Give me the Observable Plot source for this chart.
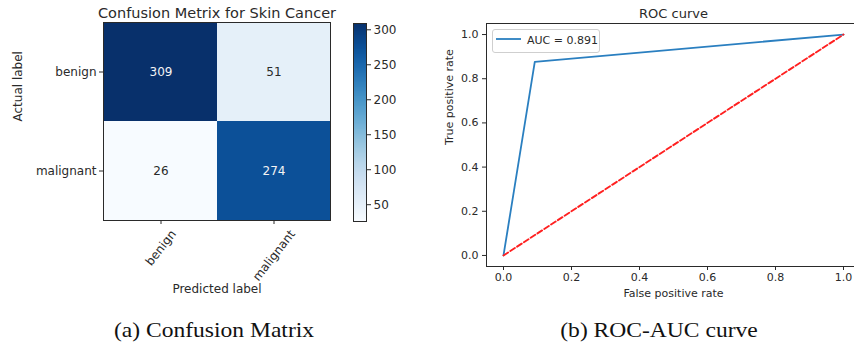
<!DOCTYPE html>
<html><head><meta charset="utf-8">
<script src="https://cdn.jsdelivr.net/npm/d3@7"></script>
<script src="https://cdn.jsdelivr.net/npm/@observablehq/plot@0.6"></script>
<style>
html,body{margin:0;padding:0;background:#fff;overflow:hidden;}
#root{position:relative;width:854px;height:343px;overflow:hidden;background:#fff;}
.abs{position:absolute;}
.cap{position:absolute;top:319px;line-height:22px;font-family:"Liberation Serif","Times New Roman",serif;font-size:22px;color:#111;white-space:nowrap;transform:translateX(-50%) scaleX(1.07);}
.legend{position:absolute;left:492px;top:29px;width:108px;height:24px;box-sizing:border-box;border:1px solid #cfcfcf;border-radius:3px;background:rgba(255,255,255,0.8);font-family:"DejaVu Sans",sans-serif;font-size:11px;color:#2a2a2a;}
.legend svg{position:absolute;left:2px;top:0;}
.legend span{position:absolute;left:34px;top:4px;line-height:14px;}
</style></head><body><div id="root"></div>
<script>
// ---- data ----
const predictedLabels = ["benign", "malignant"];
const actualLabels = ["benign", "malignant"];
const confusionCounts = [[309, 51], [26, 274]];
const colorbarTicks = [50, 100, 150, 200, 250, 300];
const fprValues = [0, 0.092, 1];
const tprValues = [0, 0.876, 1];
const chanceX = [0, 1];
const chanceY = [0, 1];
const rateTicks = [0, 0.2, 0.4, 0.6, 0.8, 1.0];
const aucText = "AUC = 0.891";
const titles = {cm: "Confusion Metrix for Skin Cancer", roc: "ROC curve"};
const captions = ["(a) Confusion Matrix", "(b) ROC-AUC curve"];

const root = document.getElementById("root");
const ink = "#2a2a2a";
const cells = actualLabels.flatMap((a, i) => predictedLabels.map((p, j) => ({actual: a, predicted: p, count: confusionCounts[i][j]})));
const cmin = d3.min(cells, d => d.count), cmax = d3.max(cells, d => d.count);

// measure text for rotated tick labels (matplotlib ha=center)
const ctx = document.createElement("canvas").getContext("2d");
ctx.font = "12px 'DejaVu Sans'";
const ang = 52 * Math.PI / 180;
const rotLabel = (lab) => {
  const L = ctx.measureText(lab).width, h = 12;
  const ext = L * Math.sin(ang) + h * Math.cos(ang);
  return Plot.text([lab], {x: d => d, text: d => d, frameAnchor: "bottom", rotate: -52,
    textAnchor: "middle", lineAnchor: "middle", dy: 7.5 + ext / 2, fontSize: 12});
};

// ---- confusion matrix ----
const cm = Plot.plot({
  width: 400, height: 300,
  marginTop: 22, marginLeft: 103, marginRight: 70, marginBottom: 80,
  style: {fontFamily: "DejaVu Sans", fontSize: "12px", color: ink, background: "transparent"},
  x: {domain: predictedLabels, padding: 0},
  y: {domain: actualLabels, padding: 0},
  color: {type: "linear", scheme: "blues", domain: [cmin, cmax]},
  marks: [
    Plot.cell(cells, {x: "predicted", y: "actual", fill: "count", inset: 0}),
    Plot.text(cells, {x: "predicted", y: "actual", text: d => String(d.count), fontSize: 12,
      fill: d => d.count > cmax / 2 ? "#f4f4f4" : ink}),
    Plot.frame({stroke: ink, strokeWidth: 1}),
    Plot.axisY({tickSize: 4, tickPadding: 3, label: null, fontSize: 12}),
    Plot.axisX({tickSize: 4, tickFormat: () => "", label: null}),
    ...predictedLabels.map(rotLabel),
    Plot.text([titles.cm], {text: d => d, frameAnchor: "top", dy: -9, fontSize: 14.5, lineAnchor: "middle"}),
    Plot.text(["Predicted label"], {text: d => d, frameAnchor: "bottom", dy: 69, fontSize: 12, lineAnchor: "middle"}),
    Plot.text(["Actual label"], {text: d => d, frameAnchor: "left", dx: -85, rotate: -90, fontSize: 12, lineAnchor: "middle"})
  ]
});
cm.classList.add("abs"); cm.style.left = "0px"; cm.style.top = "0px";
root.appendChild(cm);

// ---- colorbar ----
const nStops = 240;
const stops = d3.range(nStops).map(i => cmin + (cmax - cmin) * i / nStops);
const step = (cmax - cmin) / nStops;
const cb = Plot.plot({
  width: 70, height: 300,
  marginTop: 23, marginLeft: 13, marginRight: 44, marginBottom: 79,
  style: {fontFamily: "DejaVu Sans", fontSize: "12px", color: ink, background: "transparent"},
  y: {domain: [cmin, cmax]},
  color: {type: "linear", scheme: "blues", domain: [cmin, cmax]},
  marks: [
    Plot.rect(stops, {y1: d => d, y2: d => Math.min(cmax, d + step * 1.05), fill: d => d + step / 2, shapeRendering: "crispEdges"}),
    Plot.frame({stroke: ink}),
    Plot.axisY({anchor: "right", ticks: colorbarTicks, tickSize: 4, tickPadding: 3, label: null, fontSize: 12})
  ]
});
cb.classList.add("abs"); cb.style.left = "340px"; cb.style.top = "0px";
root.appendChild(cb);

// ---- ROC ----
const roc = fprValues.map((f, i) => ({fpr: f, tpr: tprValues[i]}));
const diag = chanceX.map((f, i) => ({fpr: f, tpr: chanceY[i]}));
const rp = Plot.plot({
  width: 450, height: 300,
  marginTop: 23, marginLeft: 66, marginRight: 10, marginBottom: 34,
  style: {fontFamily: "DejaVu Sans", fontSize: "11px", color: ink, background: "transparent"},
  x: {domain: [-0.05, 1.05]},
  y: {domain: [-0.05, 1.05]},
  marks: [
    Plot.line(roc, {x: "fpr", y: "tpr", stroke: "#2a7fc0", strokeWidth: 1.8}),
    Plot.line(diag, {x: "fpr", y: "tpr", stroke: "#ff2020", strokeWidth: 1.9, strokeDasharray: "5.5,2.6"}),
    Plot.frame({stroke: ink}),
    Plot.axisX({ticks: rateTicks, tickFormat: d3.format(".1f"), tickSize: 4, tickPadding: 3, label: null, fontSize: 11}),
    Plot.axisY({ticks: rateTicks, tickFormat: d3.format(".1f"), tickSize: 4, tickPadding: 4, label: null, fontSize: 11}),
    Plot.text([titles.roc], {text: d => d, frameAnchor: "top", dy: -10, fontSize: 13, lineAnchor: "middle"}),
    Plot.text(["False positive rate"], {text: d => d, frameAnchor: "bottom", dy: 27, fontSize: 11, lineAnchor: "middle"}),
    Plot.text(["True positive rate"], {text: d => d, frameAnchor: "left", dx: -37, rotate: -90, fontSize: 11, lineAnchor: "middle"})
  ]
});
rp.classList.add("abs"); rp.style.left = "420px"; rp.style.top = "0px";
root.appendChild(rp);

// legend
const lg = document.createElement("div");
lg.className = "legend";
lg.innerHTML = `<svg width="30" height="22"><line x1="1" x2="26" y1="9" y2="9" stroke="#2a7fc0" stroke-width="1.8"/></svg><span></span>`;
lg.querySelector("span").textContent = aucText;
root.appendChild(lg);

// captions
[[captions[0], 214], [captions[1], 659]].forEach(([t, cx]) => {
  const d = document.createElement("div");
  d.className = "cap"; d.style.left = cx + "px"; d.textContent = t;
  root.appendChild(d);
});
</script></body></html>
